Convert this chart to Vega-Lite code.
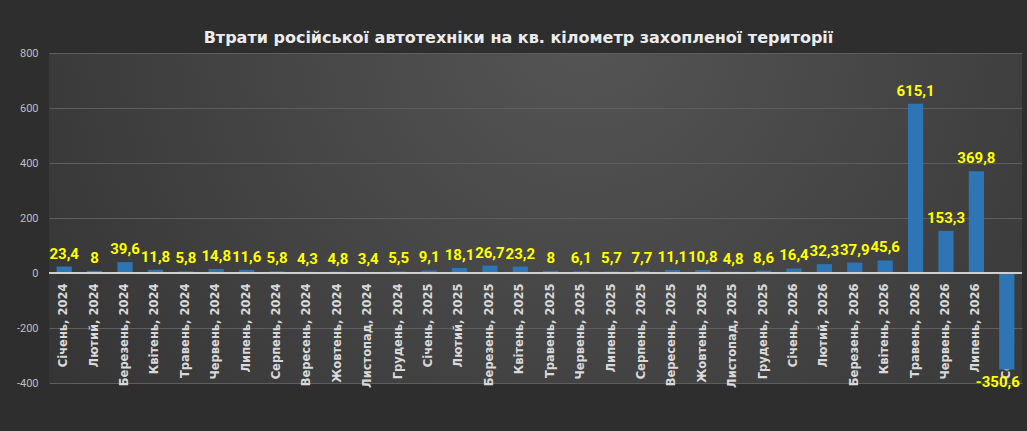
{
  "$schema": "https://vega.github.io/schema/vega-lite/v6.json",
  "width": 973,
  "height": 330,
  "autosize": {"type": "none"},
  "padding": {"left": 49, "top": 53, "right": 5, "bottom": 48},
  "background": "#2e2e2e",
  "title": {
    "text": "Втрати російської автотехніки на кв. кілометр захопленої території",
    "font": "DejaVu Sans",
    "fontSize": 16,
    "fontWeight": "bold",
    "color": "#ececec",
    "offset": 1,
    "dx": -17
  },
  "config": {
    "font": "Roboto",
    "locale": {
      "number": {"decimal": ",", "thousands": " ", "grouping": [3], "currency": ["", ""], "minus": "-"}
    },
    "view": {
      "stroke": null,
      "fill": {
        "gradient": "radial",
        "x1": 0.55, "y1": 0.3, "r1": 0,
        "x2": 0.55, "y2": 0.3, "r2": 0.8,
        "stops": [
          {"offset": 0, "color": "#555555"},
          {"offset": 1, "color": "#2e2e2e"}
        ]
      }
    }
  },
  "data": {
    "values": [
      {"label": "Січень, 2024", "value": 23.4},
      {"label": "Лютий, 2024", "value": 8},
      {"label": "Березень, 2024", "value": 39.6},
      {"label": "Квітень, 2024", "value": 11.8},
      {"label": "Травень, 2024", "value": 5.8},
      {"label": "Червень, 2024", "value": 14.8},
      {"label": "Липень, 2024", "value": 11.6},
      {"label": "Серпень, 2024", "value": 5.8},
      {"label": "Вересень, 2024", "value": 4.3},
      {"label": "Жовтень, 2024", "value": 4.8},
      {"label": "Листопад, 2024", "value": 3.4},
      {"label": "Грудень, 2024", "value": 5.5},
      {"label": "Січень, 2025", "value": 9.1},
      {"label": "Лютий, 2025", "value": 18.1},
      {"label": "Березень, 2025", "value": 26.7},
      {"label": "Квітень, 2025", "value": 23.2},
      {"label": "Травень, 2025", "value": 8},
      {"label": "Червень, 2025", "value": 6.1},
      {"label": "Липень, 2025", "value": 5.7},
      {"label": "Серпень, 2025", "value": 7.7},
      {"label": "Вересень, 2025", "value": 11.1},
      {"label": "Жовтень, 2025", "value": 10.8},
      {"label": "Листопад, 2025", "value": 4.8},
      {"label": "Грудень, 2025", "value": 8.6},
      {"label": "Січень, 2026", "value": 16.4},
      {"label": "Лютий, 2026", "value": 32.3},
      {"label": "Березень, 2026", "value": 37.9},
      {"label": "Квітень, 2026", "value": 45.6},
      {"label": "Травень, 2026", "value": 615.1},
      {"label": "Червень, 2026", "value": 153.3},
      {"label": "Липень, 2026", "value": 369.8},
      {"label": "Серпень, 2026", "value": -350.6}
    ]
  },
  "encoding": {
    "x": {
      "field": "label",
      "type": "nominal",
      "sort": null,
      "scale": {"paddingInner": 0.5, "paddingOuter": 0.25},
      "axis": {
        "title": null,
        "orient": "bottom",
        "offset": -110,
        "labelAngle": -90,
        "labelFont": "DejaVu Sans",
        "labelFontWeight": "bold",
        "labelFontSize": 11.5,
        "labelColor": "#d9d9d9",
        "labelPadding": 10,
        "labelOverlap": false,
        "ticks": false,
        "domain": false
      }
    },
    "y": {
      "field": "value",
      "type": "quantitative",
      "scale": {"domain": [-400, 800], "nice": false},
      "axis": {
        "title": null,
        "values": [-400, -200, 0, 200, 400, 600, 800],
        "labelColor": "#bfbfbf",
        "labelFontSize": 11,
        "labelPadding": 11,
        "gridColor": "#5e5e5e",
        "gridWidth": 1,
        "ticks": false,
        "domain": false
      }
    }
  },
  "layer": [
    {"mark": {"type": "bar", "color": "#2e75b6"}},
    {
      "mark": {"type": "rule", "color": "#d0d0d0", "strokeWidth": 1},
      "encoding": {"x": null, "y": {"datum": 0}}
    },
    {
      "transform": [{"filter": "datum.value >= 0"}],
      "mark": {"type": "text", "color": "#ffff00", "fontWeight": "bold", "fontSize": 15, "baseline": "alphabetic", "dy": -8},
      "encoding": {"text": {"field": "value", "type": "quantitative", "format": ".1~f"}}
    },
    {
      "transform": [{"filter": "datum.value < 0"}],
      "mark": {"type": "text", "color": "#ffff00", "fontWeight": "bold", "fontSize": 15, "baseline": "top", "dy": 6, "dx": -9},
      "encoding": {"text": {"field": "value", "type": "quantitative", "format": ".1~f"}}
    }
  ]
}
